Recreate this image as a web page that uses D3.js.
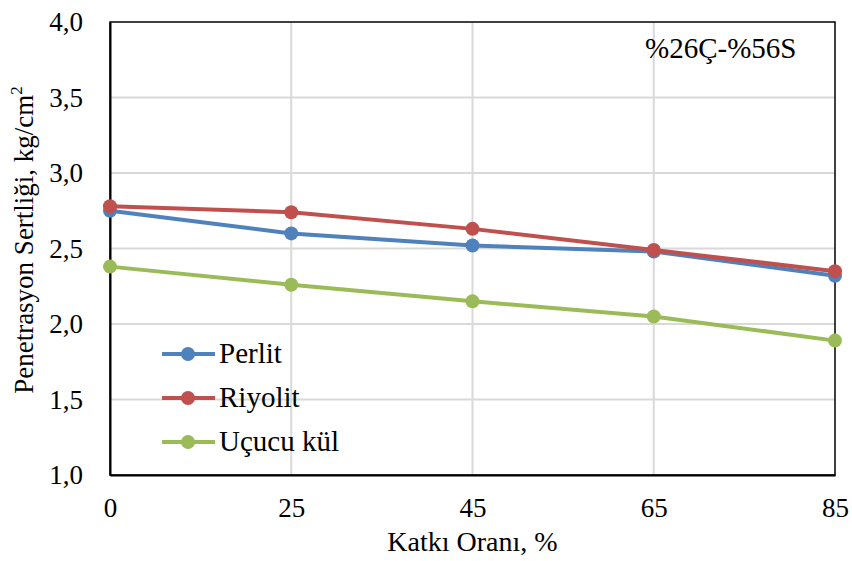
<!DOCTYPE html>
<html><head><meta charset="utf-8">
<script src="https://cdn.jsdelivr.net/npm/d3@7"></script>
<style>body{margin:0;background:#fff}svg{display:block}</style>
</head><body>
<script>
const categories = ["0","25","45","65","85"];
const seriesNames = ["Perlit","Riyolit","Uçucu kül"];
const perlit = [2.75, 2.60, 2.52, 2.48, 2.32];
const riyolit = [2.78, 2.74, 2.63, 2.49, 2.35];
const ucucuKul = [2.38, 2.26, 2.15, 2.05, 1.89];
const yTicks = [1.0,1.5,2.0,2.5,3.0,3.5,4.0];
const colors = ["#4f81bd","#c0504d","#9bbb59"];
const allSeries = [perlit, riyolit, ucucuKul];

const W=852,H=561;
const m={l:110,r:17,t:22,b:86};
const FS=27;
const svg=d3.select("body").append("svg").attr("width",W).attr("height",H)
  .style("font-family","'Liberation Serif','Times New Roman',serif");
const x=d3.scalePoint().domain(categories).range([m.l,W-m.r]).padding(0);
const y=d3.scaleLinear().domain([1,4]).range([H-m.b,m.t]);

// grid
svg.append("g").selectAll("line").data(yTicks.slice(1,-1)).join("line")
  .attr("x1",m.l).attr("x2",W-m.r).attr("y1",d=>y(d)).attr("y2",d=>y(d))
  .attr("stroke","#d9d9d9").attr("stroke-width",2);
svg.append("g").selectAll("line").data(categories.slice(1,-1)).join("line")
  .attr("y1",m.t).attr("y2",H-m.b).attr("x1",d=>x(d)).attr("x2",d=>x(d))
  .attr("stroke","#d9d9d9").attr("stroke-width",2);

// frame
svg.append("rect").attr("x",m.l).attr("y",m.t).attr("width",W-m.r-m.l).attr("height",H-m.b-m.t)
  .attr("fill","none").attr("stroke","#000").attr("stroke-width",1.5);

// axes
const ya=svg.append("g").attr("transform",`translate(${m.l},0)`)
  .call(d3.axisLeft(y).tickValues(yTicks).tickSize(0).tickPadding(27).tickFormat(d=>d3.format(".1f")(d).replace(".",",")));
ya.select(".domain").attr("stroke","#000").attr("stroke-width",2);
ya.selectAll("text").attr("font-size",FS).attr("fill","#000").style("font-family","'Liberation Serif',serif");
const xa=svg.append("g").attr("transform",`translate(0,${H-m.b})`)
  .call(d3.axisBottom(x).tickSize(0).tickPadding(23));
xa.select(".domain").attr("stroke","#000").attr("stroke-width",2);
xa.selectAll("text").attr("font-size",FS).attr("fill","#000").style("font-family","'Liberation Serif',serif");

// lines
const line=d3.line().x((d,i)=>x(categories[i])).y(d=>y(d));
allSeries.forEach((s,k)=>{
  svg.append("path").datum(s).attr("d",line).attr("fill","none")
    .attr("stroke",colors[k]).attr("stroke-width",4);
  svg.append("g").selectAll("circle").data(s).join("circle")
    .attr("cx",(d,i)=>x(categories[i])).attr("cy",d=>y(d)).attr("r",7).attr("fill",colors[k]);
});

// legend
seriesNames.forEach((n,k)=>{
  const ly=354+k*44;
  const g=svg.append("g");
  g.append("line").attr("x1",162).attr("x2",215).attr("y1",ly).attr("y2",ly)
    .attr("stroke",colors[k]).attr("stroke-width",4);
  g.append("circle").attr("cx",188).attr("cy",ly).attr("r",7).attr("fill",colors[k]);
  g.append("text").attr("x",219).attr("y",ly+9).attr("font-size",29).text(n);
});

// annotation
svg.append("text").attr("x",645).attr("y",58).attr("font-size",29).text("%26Ç-%56S");

// axis titles
svg.append("text").attr("x",(m.l+W-m.r)/2).attr("y",551).attr("text-anchor","middle")
  .attr("font-size",28).text("Katkı Oranı, %");
const yt=svg.append("text").attr("transform",`translate(33,240) rotate(-90)`)
  .attr("text-anchor","middle").attr("font-size",FS);
yt.append("tspan").text("Penetrasyon Sertliği, kg/cm");
yt.append("tspan").attr("font-size",17).attr("dy",-11).text("2");
</script>
</body></html>
